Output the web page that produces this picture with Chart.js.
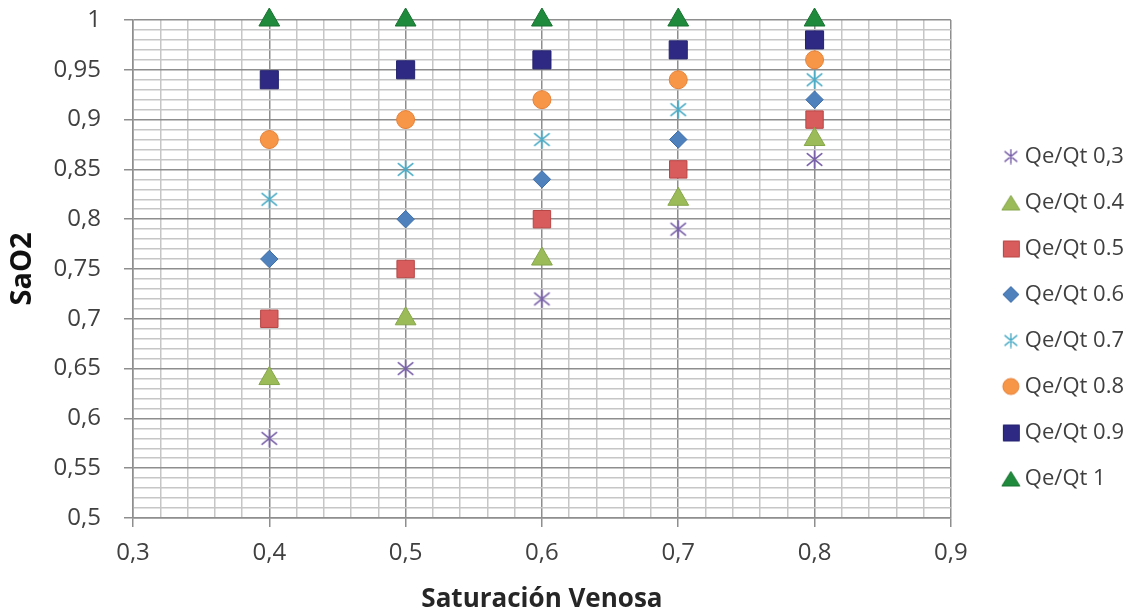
<!DOCTYPE html>
<html>
<head>
<meta charset="utf-8">
<script src="https://cdn.jsdelivr.net/npm/chart.js@4.4.1/dist/chart.umd.min.js"></script>
<style>
  html, body { margin: 0; padding: 0; background: #fff; }
  #wrap { width: 1134px; height: 615px; position: relative; }
</style>
</head>
<body>
<div id="wrap"><canvas id="chart"></canvas></div>
<script>
// Saturación venosa (eje X)
const venosa = [0.4, 0.5, 0.6, 0.7, 0.8];

// SaO2 para cada Qe/Qt
const qe03 = [0.58, 0.65, 0.72, 0.79, 0.86];
const qe04 = [0.64, 0.70, 0.76, 0.82, 0.88];
const qe05 = [0.70, 0.75, 0.80, 0.85, 0.90];
const qe06 = [0.76, 0.80, 0.84, 0.88, 0.92];
const qe07 = [0.82, 0.85, 0.88, 0.91, 0.94];
const qe08 = [0.88, 0.90, 0.92, 0.94, 0.96];
const qe09 = [0.94, 0.95, 0.96, 0.97, 0.98];
const qe10 = [1, 1, 1, 1, 1];

const seriesNames = ["Qe/Qt 0,3", "Qe/Qt 0.4", "Qe/Qt 0.5", "Qe/Qt 0.6",
                     "Qe/Qt 0.7", "Qe/Qt 0.8", "Qe/Qt 0.9", "Qe/Qt 1"];

const xTickLabels = ["0,3", "0,4", "0,5", "0,6", "0,7", "0,8", "0,9"];
const yTickLabels = ["0,5", "0,55", "0,6", "0,65", "0,7", "0,75", "0,8",
                     "0,85", "0,9", "0,95", "1"];

// asterisco estilo Excel (X + linea vertical)
function asterisk(color, size, lw) {
    const c = document.createElement("canvas");
    c.width = size; c.height = size;
    const g = c.getContext("2d");
    const m = size / 2, r = size / 2 - 1;
    g.strokeStyle = color;
    g.lineWidth = lw;
    g.lineCap = "round";
    g.beginPath();
    g.moveTo(m, m - r); g.lineTo(m, m + r);
    g.moveTo(m - r * 0.85, m - r * 0.7); g.lineTo(m + r * 0.85, m + r * 0.7);
    g.moveTo(m + r * 0.85, m - r * 0.7); g.lineTo(m - r * 0.85, m + r * 0.7);
    g.stroke();
    return c;
}

// iconos pequeños para la leyenda
function legendIcon(kind, fill, stroke) {
    if (kind === "star") return asterisk(fill, 16, 1.4);
    const c = document.createElement("canvas");
    c.width = 20; c.height = 20;
    const g = c.getContext("2d");
    g.fillStyle = fill;
    g.strokeStyle = stroke;
    g.lineWidth = 1;
    g.beginPath();
    if (kind === "rect") {
        g.rect(2.5, 2.5, 16, 16);
    } else if (kind === "triangle") {
        g.moveTo(10, 3); g.lineTo(19, 17.5); g.lineTo(1, 17.5); g.closePath();
    } else if (kind === "rectRot") {
        g.moveTo(10, 2); g.lineTo(18, 10); g.lineTo(10, 18); g.lineTo(2, 10); g.closePath();
    } else {
        g.arc(10, 10, 8, 0, Math.PI * 2);
    }
    g.fill();
    g.stroke();
    return c;
}

const starPurple = asterisk("#7860a8", 19, 1.6);
const starCyan = asterisk("#4bacc6", 19, 1.6);

function pts(ys) {
    return ys.map((y, i) => ({ x: venosa[i], y: y }));
}

function isMajor(v, step) {
    const k = v / step;
    return Math.abs(k - Math.round(k)) < 1e-6;
}

const FONT = "'Open Sans', 'DejaVu Sans', sans-serif";

const datasets = [
    { label: seriesNames[0], data: pts(qe03), pointStyle: starPurple, pointRadius: 9,
      backgroundColor: "#7860a8", borderColor: "#7860a8", icon: "star" },
    { label: seriesNames[1], data: pts(qe04), pointStyle: "triangle", pointRadius: 12,
      backgroundColor: "#9bbb59", borderColor: "#86a64a", borderWidth: 1, icon: "triangle" },
    { label: seriesNames[2], data: pts(qe05), pointStyle: "rect", pointRadius: 12.3,
      backgroundColor: "#d85c5b", borderColor: "#b84645", borderWidth: 1, icon: "rect" },
    { label: seriesNames[3], data: pts(qe06), pointStyle: "rectRot", pointRadius: 8.7,
      backgroundColor: "#4f81bd", borderColor: "#3f6ea8", borderWidth: 1, icon: "rectRot" },
    { label: seriesNames[4], data: pts(qe07), pointStyle: starCyan, pointRadius: 9,
      backgroundColor: "#4bacc6", borderColor: "#4bacc6", icon: "star" },
    { label: seriesNames[5], data: pts(qe08), pointStyle: "circle", pointRadius: 9,
      backgroundColor: "#f79646", borderColor: "#e5813a", borderWidth: 1, icon: "circle" },
    { label: seriesNames[6], data: pts(qe09), pointStyle: "rect", pointRadius: 12.8,
      backgroundColor: "#2e2a84", borderColor: "#25226e", borderWidth: 1, icon: "rect" },
    { label: seriesNames[7], data: pts(qe10), pointStyle: "triangle", pointRadius: 12,
      backgroundColor: "#1f8a3c", borderColor: "#187230", borderWidth: 1, icon: "triangle" }
];
datasets.forEach(d => { d.clip = false; d.showLine = false; });

const ctx = document.getElementById("chart").getContext("2d");

new Chart(ctx, {
    type: "scatter",
    data: { datasets: datasets },
    options: {
        responsive: true,
        maintainAspectRatio: false,
        animation: false,
        layout: { padding: { top: 20, left: 0, right: 0, bottom: 0 } },
        scales: {
            x: {
                type: "linear",
                position: "bottom",
                min: 0.3,
                max: 0.9,
                ticks: {
                    stepSize: 0.02,
                    autoSkip: false,
                    maxRotation: 0,
                    padding: 12,
                    color: "#404040",
                    font: { family: FONT, size: 24 },
                    callback: function (v) {
                        if (!isMajor(v, 0.1)) return "";
                        return xTickLabels[Math.round((v - 0.3) / 0.1)];
                    }
                },
                grid: {
                    color: c => isMajor(c.tick.value, 0.1) ? "#8e8e8e" : "#c6c6c6",
                    lineWidth: 1.5,
                    tickLength: 9,
                    tickColor: c => isMajor(c.tick.value, 0.1) ? "#8e8e8e" : "rgba(0,0,0,0)"
                },
                border: { color: "#8e8e8e", width: 1.5 },
                title: {
                    display: true,
                    text: "Saturación Venosa",
                    color: "#262626",
                    font: { family: FONT, size: 26, weight: "bold" },
                    padding: { top: 0, bottom: 0 }
                },
                afterFit: function (scale) { scale.height = 97; }
            },
            y: {
                min: 0.5,
                max: 1,
                ticks: {
                    stepSize: 0.01,
                    autoSkip: false,
                    padding: 23,
                    color: "#404040",
                    font: { family: FONT, size: 24 },
                    callback: function (v) {
                        if (!isMajor(v, 0.05)) return "";
                        return yTickLabels[Math.round((v - 0.5) / 0.05)];
                    }
                },
                grid: {
                    color: c => isMajor(c.tick.value, 0.05) ? "#8e8e8e" : "#c6c6c6",
                    lineWidth: 1.5,
                    tickLength: 9,
                    tickColor: c => isMajor(c.tick.value, 0.05) ? "#8e8e8e" : "rgba(0,0,0,0)"
                },
                border: { color: "#8e8e8e", width: 1.5 },
                title: {
                    display: true,
                    text: "SaO2",
                    color: "#111",
                    font: { family: FONT, size: 29, weight: "bold" },
                    padding: { top: 5, bottom: 0 }
                },
                afterFit: function (scale) {
                    scale.width = 133;
                    scale.paddingTop = 0;
                    scale.paddingBottom = 0;
                }
            },
            // hueco entre el area del grafico y la leyenda
            gap: {
                type: "linear",
                position: "right",
                display: true,
                grid: { display: false },
                border: { display: false },
                ticks: { display: false },
                afterFit: function (scale) { scale.width = 33; }
            }
        },
        plugins: {
            legend: {
                position: "right",
                align: "center",
                labels: {
                    usePointStyle: true,
                    boxWidth: 6,
                    boxHeight: 14,
                    padding: 24,
                    color: "#404040",
                    font: { family: FONT, size: 22 },
                    generateLabels: function (chart) {
                        const items = Chart.defaults.plugins.legend.labels.generateLabels(chart);
                        items.forEach(it => {
                            const d = chart.data.datasets[it.datasetIndex];
                            it.pointStyle = legendIcon(d.icon, d.backgroundColor, d.borderColor);
                        });
                        return items;
                    }
                }
            },
            tooltip: { enabled: false }
        }
    }
});
</script>
</body>
</html>
